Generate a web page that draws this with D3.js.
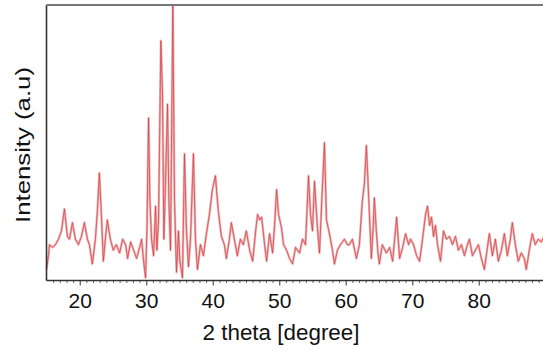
<!DOCTYPE html>
<html><head><meta charset="utf-8">
<script src="https://cdn.jsdelivr.net/npm/d3@7"></script>
<style>body{margin:0;background:#fff}svg{display:block}</style>
</head><body>
<script>
const twoTheta = [15.0,15.3,15.45,15.9,16.35,16.8,17.25,17.7,18.15,18.45,18.9,19.35,19.8,20.25,20.7,21.15,21.45,21.9,22.35,22.65,22.95,23.25,23.55,23.85,24.15,24.6,25.05,25.5,26.0,26.45,26.9,27.2,27.65,28.1,28.55,29.0,29.3,29.6,29.9,30.1,30.35,30.55,30.8,31.1,31.4,31.6,31.85,32.2,32.45,32.65,32.9,33.2,33.4,33.65,34.0,34.25,34.55,34.85,35.05,35.45,35.75,36.05,36.35,36.65,37.1,37.4,37.7,38.15,38.6,39.05,39.5,39.95,40.4,40.85,41.3,41.75,42.05,42.5,42.8,43.25,43.7,44.15,44.6,45.05,45.55,46.0,46.45,46.75,47.05,47.35,47.8,48.1,48.55,49.0,49.3,49.6,49.9,50.35,50.65,51.1,51.55,52.0,52.45,53.05,53.5,53.95,54.4,54.7,55.0,55.3,55.75,56.05,56.4,56.8,57.1,57.55,58.0,58.3,58.75,59.2,59.8,60.25,60.55,61.0,61.6,62.05,62.5,62.8,63.1,63.4,63.65,63.85,64.1,64.3,64.6,64.85,65.05,65.5,66.1,66.6,67.05,67.35,67.65,68.1,68.55,69.0,69.45,69.75,70.2,70.65,71.1,71.55,72.0,72.3,72.6,72.9,73.2,73.5,73.8,74.25,74.7,75.15,75.6,76.05,76.5,76.95,77.4,77.85,78.3,78.6,79.05,79.5,79.95,80.4,80.85,81.3,81.6,82.05,82.5,82.95,83.4,83.85,84.3,84.75,85.05,85.5,85.95,86.4,86.85,87.15,87.6,88.05,88.5,88.95,89.4,89.85];
const intensity = [4,9,13,12,13,15,18,26,16,15,21,15,13,16,21,15,13,6,15,25,39,24,7,15,22,15,11,13,10,15,13,8,14,11,8,12,15,7,1,18,59,29,15,9,27,11,22,87,67,15,36,64,29,11,100,29,3,18,7,1,46,18,5,15,46,15,4,13,9,17,24,33,38,25,16,13,8,15,21,15,9,15,13,18,11,7,18,24,22,23,13,7,17,10,20,33,24,19,13,11,8,6,12,10,15,13,38,24,18,36,19,10,29,50,22,17,11,6,11,13,15,13,13,15,8,13,29,35,49,33,19,8,18,30,18,10,6,13,10,12,7,15,23,8,12,17,13,15,13,9,7,15,24,27,20,23,16,20,13,7,18,15,16,13,16,11,13,9,13,15,9,11,13,8,4,12,17,9,15,7,11,17,9,15,21,13,7,10,8,4,11,17,13,15,14,16];
const xTicks = [20,30,40,50,60,70,80];
const xDomain = [15,90];
const yDomain = [0,100];
const xTitle = "2 theta [degree]";
const yTitle = "Intensity (a.u)";

const W=543,H=350;
const svg=d3.select("body").append("svg").attr("width",W).attr("height",H);
const L=46.5, T=5, B=280.5;
const x=d3.scaleLinear().domain(xDomain).range([L, L+75*6.65]);
const y=d3.scaleLinear().domain(yDomain).range([B, T]);

const data=twoTheta.map((t,i)=>({t, v:intensity[i]}));
const line=d3.line().x(d=>x(d.t)).y(d=>y(d.v));
svg.append("path").datum(data).attr("d",line).attr("fill","none")
  .attr("stroke","#f0b4b4").attr("stroke-width",2.4).attr("stroke-linejoin","round");
svg.append("path").datum(data).attr("d",line).attr("fill","none")
  .attr("stroke","#d33c44").attr("stroke-width",0.9).attr("stroke-opacity",0.8).attr("stroke-linejoin","round");

// minor ticks
const minor=d3.range(16,90,1).filter(v=>v%10!==0);
const ax=d3.axisBottom(x).tickValues(minor).tickSize(2.5).tickFormat("");
const gm=svg.append("g").attr("transform",`translate(0,${B})`).call(ax);
gm.select(".domain").remove();
gm.selectAll("line").attr("stroke","#666").attr("stroke-width",1);

const axM=d3.axisBottom(x).tickValues(xTicks).tickSize(5).tickPadding(8).tickFormat(d3.format("d"));
const g=svg.append("g").attr("transform",`translate(0,${B})`).call(axM);
g.select(".domain").remove();
g.selectAll("line").attr("stroke","#555").attr("stroke-width",1.2);
g.selectAll("text").attr("font-family","Liberation Sans, Arial, sans-serif").attr("font-size",21).attr("fill","#111");

svg.append("line").attr("x1",L).attr("x2",W).attr("y1",B).attr("y2",B).attr("stroke","#333").attr("stroke-width",1.6);
svg.append("line").attr("x1",L).attr("x2",L).attr("y1",T).attr("y2",B).attr("stroke","#333").attr("stroke-width",1.6);
svg.append("line").attr("x1",L).attr("x2",W).attr("y1",T).attr("y2",T).attr("stroke","#777").attr("stroke-width",2.2);

svg.append("text").attr("x",281).attr("y",340).attr("text-anchor","middle")
  .attr("font-family","Liberation Sans, Arial, sans-serif").attr("font-size",22).attr("fill","#111")
  .attr("textLength",157).attr("lengthAdjust","spacingAndGlyphs").text(xTitle);
svg.append("text").attr("transform","translate(30,145) rotate(-90)").attr("text-anchor","middle")
  .attr("font-family","Liberation Sans, Arial, sans-serif").attr("font-size",21).attr("fill","#111")
  .attr("textLength",156).attr("lengthAdjust","spacingAndGlyphs").text(yTitle);
</script>
</body></html>
